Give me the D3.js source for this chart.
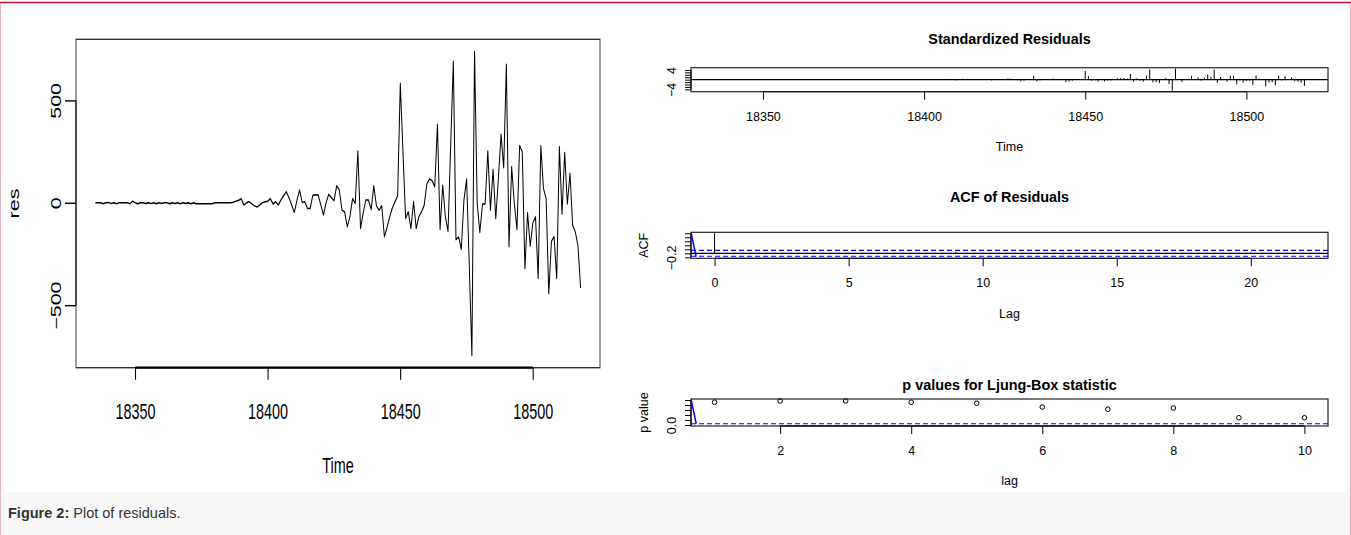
<!DOCTYPE html>
<html>
<head>
<meta charset="utf-8">
<script src="https://cdn.jsdelivr.net/npm/d3@7"></script>
<style>
  body { margin: 0; background: #fff; }
  svg { display: block; font-family: "Liberation Sans", Arial, Helvetica, sans-serif; }
</style>
</head>
<body>
<svg id="fig" width="1351" height="535"></svg>
<script>
// ---- data ----
const startDay = 18335;
const res = [
  0, 0, 0, -5, 0, 2, -4, 0, -5, 0,
  0, 0, 0, -5, 8, 0, -5, 0, 0, -4,
  0, -3, 0, -5, 0, -3, 0, 0, -5, 0,
  -4, 0, -5, 0, -4, 0, -5, 0, -5, -5,
  -5, -5, -5, -5, -5, 0, 0, 0, 0, 0,
  0, 0, 3, 8, 12, 20, -11, 0, 6, -5,
  -15, -21, -10, 0, 5, 8, 20, -6, 5, -11,
  15, 35, 54, 25, -10, -47, 10, 62, 2, 5,
  -28, -28, 37, 38, 39, -10, -60, 0, 41, 25,
  10, 83, 62, -36, -45, -117, -68, 21, -3, 253,
  -126, -50, 13, 13, -33, 83, -15, -36, -15, -166,
  -120, -69, -25, 5, 34, 584, 250, -77, -44, -126,
  5, -126, -68, -44, -12, 91, 116, 108, 78, 383,
  -130, 86, -69, -139, 280, 690, -180, -166, -227, 13,
  116, -300, -746, 739, -3, -145, -6, -6, 253, -36,
  163, -77, 120, 335, 171, 677, -215, 176, -3, -130,
  279, 250, -321, -49, -212, -98, -69, -370, 279, 70,
  21, -444, -188, -166, -370, 274, -55, 246, -6, 144,
  -109, -142, -207, -416
];
const days = res.map((v, i) => startDay + i);
const sigma = 162;                       // residual scale used for standardizing

const acfLags = d3.range(0, 23);
const acfVals = [1, 0.01, -0.01, 0.0, -0.02, 0.03, -0.03, -0.03, 0.01, 0.06, -0.03,
                 -0.03, 0.01, -0.05, 0.01, 0.02, -0.03, 0.0, 0.01, -0.03, 0.05, -0.02, -0.03];
const acfCI = 0.147;
const acfRange = [-0.2, 1];
const acfStray = [[-0.88, 1.05], [-0.69, -0.17]];

const pLags = [1, 2, 3, 4, 5, 6, 7, 8, 9, 10];
const pVals = [0.91, 0.96, 0.96, 0.91, 0.87, 0.72, 0.63, 0.68, 0.29, 0.29];
const pCut = 0.05;
const pStray = [[0.64, 1.04], [0.72, 0.05]];

// tick values and labels
const resTicksX = [18350, 18400, 18450, 18500];
const resTicksY = [-500, 0, 500];
const stdTicksY = [-4, -3, -2, -1, 0, 1, 2, 3, 4];
const stdLabelsY = [-4, 4];
const acfTicksX = [0, 5, 10, 15, 20];
const acfTicksY = [-0.2, 0, 0.2, 0.4, 0.6, 0.8, 1.0];
const acfLabelsY = [-0.2];
const pTicksX = [2, 4, 6, 8, 10];
const pTicksY = [0, 0.2, 0.4, 0.6, 0.8, 1.0];
const pLabelsY = [0];

// R-style axis range: data range widened by 4%
function ext4([lo, hi]) {
  const r = hi - lo;
  return [lo - 0.04 * r, hi + 0.04 * r];
}

const svg = d3.select("#fig");

// page frame
svg.append("rect").attr("width", 1351).attr("height", 535).attr("fill", "#f9f8f9");
svg.append("rect").attr("x", 3).attr("y", 7).attr("width", 1345).attr("height", 485).attr("fill", "#fff");
svg.append("line").attr("x1", 0).attr("x2", 1351).attr("y1", 2.5).attr("y2", 2.5)
  .attr("stroke", "#c4173f").attr("stroke-width", 1.6);
[0.5, 1350.5].forEach(x => svg.append("line").attr("x1", x).attr("x2", x).attr("y1", 3).attr("y2", 535)
  .attr("stroke", "#e7b9c6").attr("stroke-width", 1));

const cap = svg.append("text").attr("x", 8).attr("y", 518).attr("font-size", 14.5).attr("fill", "#333");
cap.append("tspan").attr("font-weight", "bold").text("Figure 2:");
cap.append("tspan").text(" Plot of residuals.");

// ================= left panel: res over time (picture is squashed horizontally) =================
const sq = 0.67;
const L = { x0: 76, x1: 600, y0: 39.3, y1: 367.7, font: 21.5 };
const gL = svg.append("g").attr("transform", `scale(${sq},1)`);

const xL = d3.scaleLinear().domain(ext4(d3.extent(days))).range([L.x0 / sq, L.x1 / sq]);
const yL = d3.scaleLinear().domain(ext4(d3.extent(res))).range([L.y1, L.y0]);

gL.append("rect")
  .attr("x", xL.range()[0]).attr("y", L.y0)
  .attr("width", xL.range()[1] - xL.range()[0]).attr("height", L.y1 - L.y0)
  .attr("fill", "none").attr("stroke", "#333").attr("stroke-width", 1.4);

gL.append("path")
  .datum(res)
  .attr("fill", "none").attr("stroke", "#000").attr("stroke-width", 1.5)
  .attr("stroke-linejoin", "round")
  .attr("d", d3.line().x((d, i) => xL(days[i])).y(d => yL(d)));

const axLX = gL.append("g").attr("transform", `translate(0,${L.y1})`)
  .call(d3.axisBottom(xL).tickValues(resTicksX).tickFormat(d3.format("d")).tickSize(12).tickPadding(24.5));
axLX.select(".domain").remove();
axLX.selectAll(".tick line").attr("stroke", "#000").attr("stroke-width", 1.6);
axLX.selectAll("text").attr("font-size", L.font).attr("font-family", null).attr("fill", "#000");
axLX.append("line").attr("x1", xL(resTicksX[0])).attr("x2", xL(resTicksX[resTicksX.length - 1]))
  .attr("stroke", "#000").attr("stroke-width", 2.2);

const axLY = gL.append("g").attr("transform", `translate(${xL.range()[0]},0)`)
  .call(d3.axisLeft(yL).tickValues(resTicksY).tickFormat(d3.format("d")).tickSize(11 / sq));
axLY.select(".domain").remove();
axLY.selectAll(".tick line").attr("stroke", "#000").attr("stroke-width", 1.4);
axLY.selectAll("text")
  .attr("font-size", L.font).attr("fill", "#000")
  .attr("transform", "rotate(-90)").attr("x", 0).attr("y", -22.2).attr("dy", 0)
  .attr("text-anchor", "middle");
axLY.append("line").attr("y1", yL(resTicksY[0])).attr("y2", yL(resTicksY[resTicksY.length - 1]))
  .attr("stroke", "#000").attr("stroke-width", 1.6);

gL.append("text")
  .attr("transform", `translate(${15 / sq + 0.26 * L.font},${(L.y0 + L.y1) / 2}) rotate(-90)`)
  .attr("text-anchor", "middle").attr("font-size", L.font).text("res");
gL.append("text")
  .attr("x", (L.x0 + L.x1) / 2 / sq).attr("y", 465).attr("dy", "0.36em")
  .attr("text-anchor", "middle").attr("font-size", L.font).text("Time");

// ================= right panels (tsdiag) =================
const R = { x0: 691, x1: 1328, font: 12.5, titleFont: 14.4 };

function panel(o) {
  const g = svg.append("g");
  g.append("text").attr("x", (R.x0 + R.x1) / 2).attr("y", o.titleY).attr("dy", "0.36em")
    .attr("text-anchor", "middle").attr("font-size", R.titleFont).attr("font-weight", "bold")
    .text(o.title);

  const ax = g.append("g").attr("transform", `translate(0,${o.bottom})`)
    .call(d3.axisBottom(o.x).tickValues(o.xTicks).tickFormat(d3.format("d")).tickSize(8).tickPadding(12.1));
  ax.select(".domain").remove();
  ax.selectAll(".tick line").attr("stroke", "#000");
  ax.selectAll("text").attr("font-size", R.font).attr("fill", "#000");
  ax.append("line").attr("x1", o.x(o.xTicks[0])).attr("x2", o.x(o.xTicks[o.xTicks.length - 1]))
    .attr("stroke", "#000").attr("stroke-width", 1.3);

  const ay = g.append("g").attr("transform", `translate(${R.x0},0)`)
    .call(d3.axisLeft(o.y).tickValues(o.yTicks).tickSize(6)
      .tickFormat(d => o.yLabels.includes(d) ? o.yFormat(d) : ""));
  ay.select(".domain").remove();
  ay.selectAll(".tick line").attr("stroke", "#000");
  ay.selectAll("text").attr("font-size", R.font).attr("fill", "#000")
    .attr("transform", "rotate(-90)").attr("x", 0).attr("y", -19).attr("dy", "0.35em")
    .attr("text-anchor", "middle");
  ay.append("line").attr("y1", o.y(o.yTicks[0])).attr("y2", o.y(o.yTicks[o.yTicks.length - 1]))
    .attr("stroke", "#000").attr("stroke-width", 1.3);

  g.append("text").attr("x", (R.x0 + R.x1) / 2).attr("y", o.bottom + 55).attr("dy", "0.35em")
    .attr("text-anchor", "middle").attr("font-size", R.font).text(o.xlab);
  if (o.ylab) {
    g.append("text").attr("transform", `translate(644,${(o.top + o.bottom) / 2}) rotate(-90)`)
      .attr("dy", "0.35em").attr("text-anchor", "middle").attr("font-size", R.font).text(o.ylab);
  }

  const id = "clip" + o.key;
  svg.append("clipPath").attr("id", id).append("rect")
    .attr("x", R.x0).attr("y", o.top).attr("width", R.x1 - R.x0).attr("height", o.bottom - o.top);
  const plot = g.append("g").attr("clip-path", `url(#${id})`);

  g.append("rect").attr("x", R.x0).attr("y", o.top).attr("width", R.x1 - R.x0).attr("height", o.bottom - o.top)
    .attr("fill", "none").attr("stroke", "#222").attr("stroke-width", 1.2);
  return plot;
}

// --- standardized residuals ---
const std = res.map(v => v / sigma);
const S = { top: 67.7, bottom: 91.7 };
const xS = d3.scaleLinear().domain(ext4(d3.extent(days))).range([R.x0, R.x1]);
const yS = d3.scaleLinear().domain(ext4(d3.extent(std))).range([S.bottom, S.top]);
const pS = panel({
  key: "std", top: S.top, bottom: S.bottom, title: "Standardized Residuals", titleY: 39,
  x: xS, y: yS, xTicks: resTicksX, yTicks: stdTicksY, yLabels: stdLabelsY, yFormat: d3.format("d"),
  xlab: "Time"
});
pS.selectAll("line.h").data(std).join("line").attr("class", "h")
  .attr("x1", (d, i) => xS(days[i])).attr("x2", (d, i) => xS(days[i]))
  .attr("y1", yS(0)).attr("y2", d => yS(d))
  .attr("stroke", "#000").attr("stroke-width", 1);
pS.append("line").attr("x1", R.x0).attr("x2", R.x1).attr("y1", yS(0)).attr("y2", yS(0))
  .attr("stroke", "#000").attr("stroke-width", 1.2);

// --- ACF of residuals ---
const A = { top: 232.3, bottom: 258.3 };
const xA = d3.scaleLinear().domain(ext4(d3.extent(acfLags))).range([R.x0, R.x1]);
const yA = d3.scaleLinear().domain(ext4(acfRange)).range([A.bottom, A.top]);
const pA = panel({
  key: "acf", top: A.top, bottom: A.bottom, title: "ACF of Residuals", titleY: 197,
  x: xA, y: yA, xTicks: acfTicksX, yTicks: acfTicksY, yLabels: acfLabelsY, yFormat: d3.format(".1f"),
  xlab: "Lag", ylab: "ACF"
});
pA.append("line").attr("x1", R.x0).attr("x2", R.x1).attr("y1", yA(0)).attr("y2", yA(0))
  .attr("stroke", "#000").attr("stroke-width", 1.2);
pA.selectAll("line.h").data(acfVals).join("line").attr("class", "h")
  .attr("x1", (d, i) => xA(acfLags[i])).attr("x2", (d, i) => xA(acfLags[i]))
  .attr("y1", yA(0)).attr("y2", d => yA(d))
  .attr("stroke", "#000").attr("stroke-width", 1);
[acfCI, -acfCI].forEach(c => pA.append("line")
  .attr("x1", R.x0).attr("x2", R.x1).attr("y1", yA(c)).attr("y2", yA(c))
  .attr("stroke", "#0000ff").attr("stroke-width", 1.2).attr("stroke-dasharray", "5,3"));
pA.append("path").datum(acfStray)
  .attr("d", d3.line().x(d => xA(d[0])).y(d => yA(d[1])))
  .attr("fill", "none").attr("stroke", "#0000ff").attr("stroke-width", 1.5);

// --- p values for Ljung-Box ---
const P = { top: 399, bottom: 426 };
const xP = d3.scaleLinear().domain(ext4(d3.extent(pLags))).range([R.x0, R.x1]);
const yP = d3.scaleLinear().domain(ext4([0, 1])).range([P.bottom, P.top]);
const pP = panel({
  key: "p", top: P.top, bottom: P.bottom, title: "p values for Ljung-Box statistic", titleY: 385,
  x: xP, y: yP, xTicks: pTicksX, yTicks: pTicksY, yLabels: pLabelsY, yFormat: d3.format(".1f"),
  xlab: "lag", ylab: "p value"
});
pP.append("line").attr("x1", R.x0).attr("x2", R.x1).attr("y1", yP(pCut)).attr("y2", yP(pCut))
  .attr("stroke", "#0000ff").attr("stroke-width", 1.2).attr("stroke-dasharray", "5,3");
pP.append("path").datum(pStray)
  .attr("d", d3.line().x(d => xP(d[0])).y(d => yP(d[1])))
  .attr("fill", "none").attr("stroke", "#0000ff").attr("stroke-width", 1.5);
svg.selectAll("circle.pv").data(pVals).join("circle").attr("class", "pv")
  .attr("cx", (d, i) => xP(pLags[i])).attr("cy", d => yP(d)).attr("r", 2.3)
  .attr("fill", "none").attr("stroke", "#000").attr("stroke-width", 1);
</script>
</body>
</html>
